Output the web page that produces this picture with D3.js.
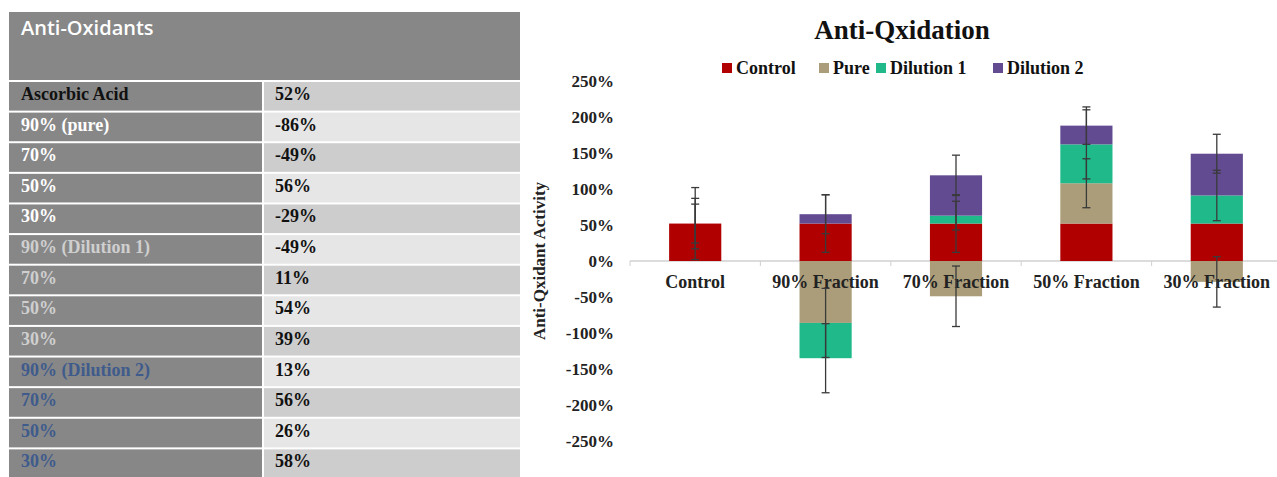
<!doctype html>
<html>
<head>
<meta charset="utf-8">
<script src="https://d3js.org/d3.v7.min.js"></script>
<style>
  body { margin: 0; background: #fff; }
</style>
</head>
<body>
<script>
// table data
var tableLabels = ["Ascorbic Acid", "90% (pure)", "70%", "50%", "30%",
                   "90% (Dilution 1)", "70%", "50%", "30%",
                   "90% (Dilution 2)", "70%", "50%", "30%"];
var tableValues = ["52%", "-86%", "-49%", "56%", "-29%", "-49%", "11%", "54%", "39%",
                   "13%", "56%", "26%", "58%"];
var tableGroups = [0, 1, 1, 1, 1, 2, 2, 2, 2, 3, 3, 3, 3];

// chart data (%)
var categories = ["Control", "90% Fraction", "70% Fraction", "50% Fraction", "30% Fraction"];
var seriesNames = ["Control", "Pure", "Dilution 1", "Dilution 2"];
var control = [52, 52, 52, 52, 52];
var pure = [0, -86, -49, 56, -29];
var dilution1 = [0, -49, 11, 54, 39];
var dilution2 = [0, 13, 56, 26, 58];
// error bar sizes (+/- %)
var errControl = [50, 40, 40, 0, 0];
var errPure = [35, 48, 42, 34, 35];
var errDil1 = [27, 48, 20, 48, 35];
var errDil2 = [0, 27, 28, 26, 27];
var yTicks = [-250, -200, -150, -100, -50, 0, 50, 100, 150, 200, 250];

var colors = ["#b00000", "#ab9d79", "#1fb98a", "#634b92"];
var groupText = ["#111", "#fff", "#cfcfcf", "#3f5b8c"];
var serif = "Liberation Serif";

var svg = d3.select("body").append("svg")
    .attr("width", 1277)
    .attr("height", 477);

// ---- table ----
var tx0 = 9, tx1 = 262, tx2 = 520;
var rowY = d3.scaleBand().domain(d3.range(tableLabels.length)).range([81, 479]);

svg.append("rect").attr("x", tx0).attr("y", 12).attr("width", tx2 - tx0).attr("height", 68)
    .attr("fill", "#878787");
svg.append("text").attr("x", 21).attr("y", 35)
    .attr("font-family", "Open Sans").attr("font-weight", 600).attr("font-size", 20)
    .attr("fill", "#fff").text("Anti-Oxidants");

var rows = svg.selectAll(".row").data(tableLabels).enter().append("g")
    .attr("class", "row")
    .attr("transform", function(d, i) { return "translate(0," + rowY(i) + ")"; });

rows.append("rect").attr("x", tx0).attr("y", 1).attr("width", tx1 - tx0)
    .attr("height", rowY.bandwidth() - 2).attr("fill", "#878787");
rows.append("rect").attr("x", tx1 + 2).attr("y", 1).attr("width", tx2 - tx1 - 2)
    .attr("height", rowY.bandwidth() - 2)
    .attr("fill", function(d, i) { return i % 2 == 0 ? "#cdcdcd" : "#e6e6e6"; });

rows.append("text").attr("x", 21).attr("y", 19)
    .attr("font-family", serif).attr("font-weight", "bold").attr("font-size", 18)
    .attr("fill", function(d, i) { return groupText[tableGroups[i]]; })
    .text(function(d) { return d; });
rows.append("text").attr("x", 275).attr("y", 19)
    .attr("font-family", serif).attr("font-weight", "bold").attr("font-size", 18)
    .attr("fill", "#111")
    .text(function(d, i) { return tableValues[i]; });

// ---- chart ----
var x = d3.scaleBand().domain(categories).range([630, 1282]).paddingInner(0.6).paddingOuter(0.3);
var y = d3.scaleLinear().domain([-250, 250]).range([441, 81]);

var rowsData = categories.map(function(c, i) {
    return { cat: c, "Control": control[i], "Pure": pure[i], "Dilution 1": dilution1[i], "Dilution 2": dilution2[i] };
});
var errs = [errControl, errPure, errDil1, errDil2];

var stack = d3.stack().keys(seriesNames).offset(d3.stackOffsetDiverging);
var stacked = stack(rowsData);

// axis line at zero
svg.append("line").attr("x1", 630).attr("x2", 1282).attr("y1", y(0)).attr("y2", y(0))
    .attr("stroke", "#d0d0d0").attr("stroke-width", 1.5);
svg.selectAll(".xtick").data(d3.range(categories.length + 1)).enter().append("line")
    .attr("x1", function(i) { return 630 + i * x.step(); })
    .attr("x2", function(i) { return 630 + i * x.step(); })
    .attr("y1", y(0)).attr("y2", y(0) + 5)
    .attr("stroke", "#d0d0d0");

stacked.forEach(function(s, k) {
    svg.append("g").selectAll("rect").data(s).enter().append("rect")
        .attr("x", function(d) { return x(d.data.cat); })
        .attr("width", x.bandwidth())
        .attr("y", function(d) { return y(d[1]); })
        .attr("height", function(d) { return y(d[0]) - y(d[1]); })
        .attr("fill", colors[k]);
});

// x labels
svg.selectAll(".xl").data(categories).enter().append("text")
    .attr("x", function(d) { return x(d) + x.bandwidth() / 2; })
    .attr("y", 288)
    .attr("text-anchor", "middle")
    .attr("font-family", serif).attr("font-weight", "bold").attr("font-size", 18)
    .attr("fill", "#222")
    .text(function(d) { return d; });

// error bars at the end of each segment
stacked.forEach(function(s, k) {
    s.forEach(function(d, j) {
        var e = errs[k][j];
        if (!e) return;
        var v = d.data[seriesNames[k]];
        var end;
        if (v > 0) end = d[1];
        else if (v < 0) end = d[0];
        else end = d3.max(stacked.slice(0, k), function(p) { return p[j][1]; }) || 0;
        var cx = x(d.data.cat) + x.bandwidth() / 2;
        var g = svg.append("g").attr("stroke", "#3a3a3a").attr("stroke-width", 1.3);
        g.append("line").attr("x1", cx).attr("x2", cx).attr("y1", y(end + e)).attr("y2", y(end - e));
        g.append("line").attr("x1", cx - 4).attr("x2", cx + 4).attr("y1", y(end + e)).attr("y2", y(end + e));
        g.append("line").attr("x1", cx - 4).attr("x2", cx + 4).attr("y1", y(end - e)).attr("y2", y(end - e));
    });
});

// y axis labels
svg.selectAll(".yl").data(yTicks).enter().append("text")
    .attr("x", 614).attr("y", function(d) { return y(d) + 6; })
    .attr("text-anchor", "end")
    .attr("font-family", serif).attr("font-weight", "bold").attr("font-size", 17)
    .attr("fill", "#222")
    .text(function(d) { return d + "%"; });

svg.append("text")
    .attr("transform", "translate(545," + y(0) + ") rotate(-90)")
    .attr("text-anchor", "middle")
    .attr("font-family", serif).attr("font-weight", "bold").attr("font-size", 17)
    .attr("fill", "#222")
    .text("Anti-Qxidant Activity");

// title
svg.append("text").attr("x", 902).attr("y", 39).attr("text-anchor", "middle")
    .attr("font-family", serif).attr("font-weight", "bold").attr("font-size", 27)
    .attr("fill", "#111").text("Anti-Qxidation");

// legend
var legendX = [722, 819, 876, 993];
var legend = svg.selectAll(".legend").data(seriesNames).enter().append("g")
    .attr("transform", function(d, i) { return "translate(" + legendX[i] + ",63)"; });
legend.append("rect").attr("width", 10).attr("height", 10)
    .attr("fill", function(d, i) { return colors[i]; });
legend.append("text").attr("x", 14).attr("y", 11)
    .attr("font-family", serif).attr("font-weight", "bold").attr("font-size", 18)
    .attr("fill", "#111")
    .text(function(d) { return d; });
</script>
</body>
</html>
